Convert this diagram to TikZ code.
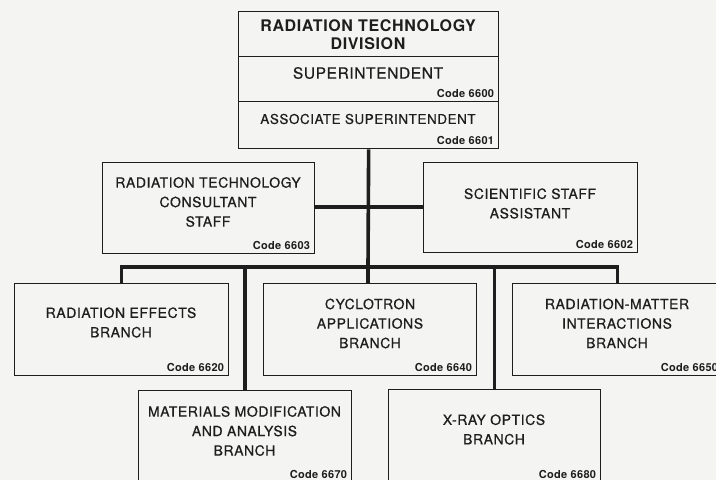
\documentclass[tikz,border=0pt]{standalone}
\usepackage{fontspec}
\setmainfont{TeX Gyre Heros}
\newfontfamily\boxfont[LetterSpace=4,FakeBold=0.6]{TeX Gyre Heros}
\newfontfamily\titlefont[LetterSpace=4]{TeX Gyre Heros}
\newfontfamily\codefont[LetterSpace=3]{TeX Gyre Heros}
\definecolor{ink}{RGB}{30,30,30}
\definecolor{paper}{RGB}{244,244,242}
\begin{document}
\begin{tikzpicture}[x=1pt,y=-1pt,
  box/.style={draw=ink,line width=1.3pt,fill=paper,inner sep=0pt,anchor=north west},
  conn/.style={draw=ink,line width=3.6pt},
  txt/.style={text=ink,font=\boxfont\fontsize{14}{19.5}\selectfont,align=center,inner sep=0pt},
  code/.style={text=ink,font=\codefont\bfseries\fontsize{11}{12}\selectfont,anchor=base east,inner sep=0pt,xshift=-5pt,yshift=5pt}]
\useasboundingbox (0,0) rectangle (716,480);
\clip (0,0) rectangle (716,480);
\fill[paper] (0,0) rectangle (716,480);
% connectors
\coordinate (bar) at (368,267);
\coordinate (mid) at (368,207);
% boxes
\node[box,minimum width=260pt,minimum height=45pt] (div) at (238,11) {};
\node[box,minimum width=260pt,minimum height=45pt] (sup) at (238,56) {};
\node[box,minimum width=260pt,minimum height=47pt] (assoc) at (238,101) {};
\node[box,minimum width=212pt,minimum height=91pt] (cons) at (102,162) {};
\node[box,minimum width=214pt,minimum height=90pt] (sci) at (423,162) {};
\node[box,minimum width=214pt,minimum height=92pt] (ree) at (14,283) {};
\node[box,minimum width=213pt,minimum height=92pt] (cyc) at (263,283) {};
\node[box,minimum width=210pt,minimum height=92pt] (rmi) at (512,283) {};
\node[box,minimum width=213pt,minimum height=92pt] (mat) at (138,390) {};
\node[box,minimum width=212pt,minimum height=93pt] (xray) at (388,389) {};
% connector lines
\draw[conn] (assoc.south) -- (bar);
\draw[conn] (cons.east |- mid) -- (sci.west |- mid);
\draw[conn] (ree.north) |- (bar) -| (rmi.north);
\draw[conn] (bar) -- (bar |- cyc.north);
\draw[conn] (bar -| mat.north) -- (mat.north);
\draw[conn] (bar -| xray.north) -- (xray.north);
% texts
\node[txt,font=\titlefont\bfseries\fontsize{16}{18}\selectfont] (tdiv) at (368,35) {RADIATION TECHNOLOGY\\DIVISION};
\node[txt,font=\boxfont\fontsize{15.5}{18}\selectfont] (tsup) at (368,73) {SUPERINTENDENT};
\node[code] (csup) at (sup.south east) {Code 6600};
\node[txt,font=\boxfont\fontsize{13.5}{18}\selectfont] (tassoc) at (368,119) {ASSOCIATE SUPERINTENDENT};
\node[code] (cassoc) at (assoc.south east) {Code 6601};
\node[txt] (tcons) at (208,202) {RADIATION TECHNOLOGY\\CONSULTANT\\STAFF};
\node[code] (ccons) at (cons.south east) {Code 6603};
\node[txt] (tsci) at (530,203.5) {SCIENTIFIC STAFF\\ASSISTANT};
\node[code] (csci) at (sci.south east) {Code 6602};
\node[txt] (tree) at (121,322.5) {RADIATION EFFECTS\\BRANCH};
\node[code] (cree) at (ree.south east) {Code 6620};
\node[txt] (tcyc) at (370,323.5) {CYCLOTRON\\APPLICATIONS\\BRANCH};
\node[code] (ccyc) at (cyc.south east) {Code 6640};
\node[txt] (trmi) at (617,323.5) {RADIATION-MATTER\\INTERACTIONS\\BRANCH};
\node[code] (crmi) at (rmi.south east) {Code 6650};
\node[txt] (tmat) at (244.5,431) {MATERIALS MODIFICATION\\AND ANALYSIS\\BRANCH};
\node[code] (cmat) at (mat.south east) {Code 6670};
\node[txt] (txray) at (494,429.5) {X-RAY OPTICS\\BRANCH};
\node[code] (cxray) at (xray.south east) {Code 6680};
\end{tikzpicture}
\end{document}
